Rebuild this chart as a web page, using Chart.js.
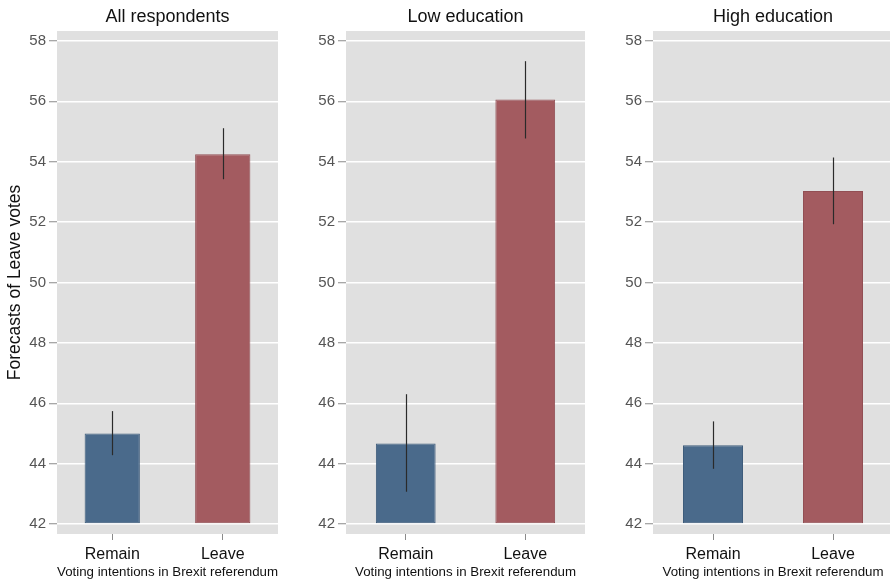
<!DOCTYPE html>
<html>
<head>
<meta charset="utf-8">
<script src="https://cdn.jsdelivr.net/npm/chart.js@4.4.1/dist/chart.umd.min.js"></script>
<style>
  html, body { margin: 0; padding: 0; background: #ffffff; overflow: hidden; width: 890px; height: 580px; }
  .panel { position: absolute; top: 0; height: 580px; }
</style>
</head>
<body>
<div class="panel" style="left:0px;width:290px"><canvas id="p0"></canvas></div>
<div class="panel" style="left:290px;width:300px"><canvas id="p1"></canvas></div>
<div class="panel" style="left:595px;width:298px"><canvas id="p2"></canvas></div>
<script>
// Forecast of the Leave share by own voting intention, with 95% intervals
const categories = ['Remain', 'Leave'];
const panelTitles = ['All respondents', 'Low education', 'High education'];
const yTicks = [42, 44, 46, 48, 50, 52, 54, 56, 58];

const allMeans = [45.00, 54.25];
const allLower = [44.28, 53.42];
const allUpper = [45.74, 55.11];

const lowEduMeans = [44.67, 56.06];
const lowEduLower = [43.07, 54.77];
const lowEduUpper = [46.30, 57.33];

const highEduMeans = [44.61, 53.03];
const highEduLower = [43.83, 51.93];
const highEduUpper = [45.40, 54.14];

const yAxisTitle = 'Forecasts of Leave votes';
const xAxisTitle = 'Voting intentions in Brexit referendum';

const FONT = '"Liberation Sans", Arial, sans-serif';
const barFill = ['#4a6a8b', '#a35b60'];
const barEdge = ['#3e5c7b', '#924f54'];

// grey panel background behind the plot area
const panelBackground = {
  id: 'panelBackground',
  beforeDraw(chart) {
    const { ctx, chartArea: a } = chart;
    ctx.save();
    ctx.fillStyle = '#e0e0e0';
    ctx.fillRect(a.left, a.top, a.right - a.left, a.bottom - a.top);
    ctx.restore();
  }
};

// confidence interval whiskers
const intervals = {
  id: 'intervals',
  afterDatasetsDraw(chart, args, opts) {
    const { ctx } = chart;
    const y = chart.scales.y;
    const meta = chart.getDatasetMeta(0);
    ctx.save();
    ctx.strokeStyle = '#2a2a2a';
    ctx.lineWidth = 1.2;
    meta.data.forEach((bar, i) => {
      const x = Math.round(bar.x) + 0.5;
      ctx.beginPath();
      ctx.moveTo(x, y.getPixelForValue(opts.lower[i]));
      ctx.lineTo(x, y.getPixelForValue(opts.upper[i]));
      ctx.stroke();
    });
    ctx.restore();
  }
};

// panel heading centred over the plot area
const panelHeading = {
  id: 'panelHeading',
  afterDraw(chart, args, opts) {
    const { ctx, chartArea: a } = chart;
    ctx.save();
    ctx.fillStyle = '#111111';
    ctx.font = '18px ' + FONT;
    ctx.textAlign = 'center';
    ctx.textBaseline = 'middle';
    ctx.fillText(opts.text, (a.left + a.right) / 2, 17);
    ctx.restore();
  }
};

function makePanel(id, title, means, lower, upper, cfg) {
  return new Chart(document.getElementById(id), {
    type: 'bar',
    data: {
      labels: categories,
      datasets: [{
        data: means,
        base: 42,
        backgroundColor: barFill,
        borderColor: barEdge,
        borderWidth: 1,
        borderSkipped: false,
        barPercentage: 0.5,
        categoryPercentage: 1.0
      }]
    },
    options: {
      responsive: true,
      maintainAspectRatio: false,
      animation: false,
      events: [],
      layout: { padding: { left: 0, right: cfg.padRight, top: 31, bottom: 0 } },
      plugins: {
        legend: { display: false },
        tooltip: { enabled: false },
        intervals: { lower: lower, upper: upper },
        panelHeading: { text: title }
      },
      scales: {
        x: {
          offset: true,
          border: { display: false },
          grid: { display: true, offset: false, drawOnChartArea: false, tickLength: 6, tickColor: '#8a8a8a', lineWidth: 1 },
          ticks: { color: '#111111', font: { family: FONT, size: 16 }, padding: 5 },
          title: { display: true, text: xAxisTitle, color: '#111111', font: { family: FONT, size: 13.3 }, padding: { top: 0, bottom: 0 } },
          afterFit(s) { s.height = 46; }
        },
        y: {
          min: 41.67,
          max: 58.33,
          border: { display: false },
          afterBuildTicks(s) { s.ticks = yTicks.map(v => ({ value: v })); },
          grid: { color: '#ffffff', lineWidth: 1.5, tickColor: '#8a8a8a', tickLength: 8, tickWidth: 1 },
          ticks: { color: '#555555', font: { family: FONT, size: 15 }, padding: 3 },
          title: { display: cfg.showYTitle, text: yAxisTitle, color: '#111111', font: { family: FONT, size: 17.5 }, padding: { top: 5, bottom: 0 } },
          afterFit(s) { s.width = cfg.yWidth; }
        }
      }
    },
    plugins: [panelBackground, intervals, panelHeading]
  });
}

makePanel('p0', panelTitles[0], allMeans, allLower, allUpper, { yWidth: 57, padRight: 12, showYTitle: true });
makePanel('p1', panelTitles[1], lowEduMeans, lowEduLower, lowEduUpper, { yWidth: 56, padRight: 5, showYTitle: false });
makePanel('p2', panelTitles[2], highEduMeans, highEduLower, highEduUpper, { yWidth: 58, padRight: 0, showYTitle: false });
</script>
</body>
</html>
